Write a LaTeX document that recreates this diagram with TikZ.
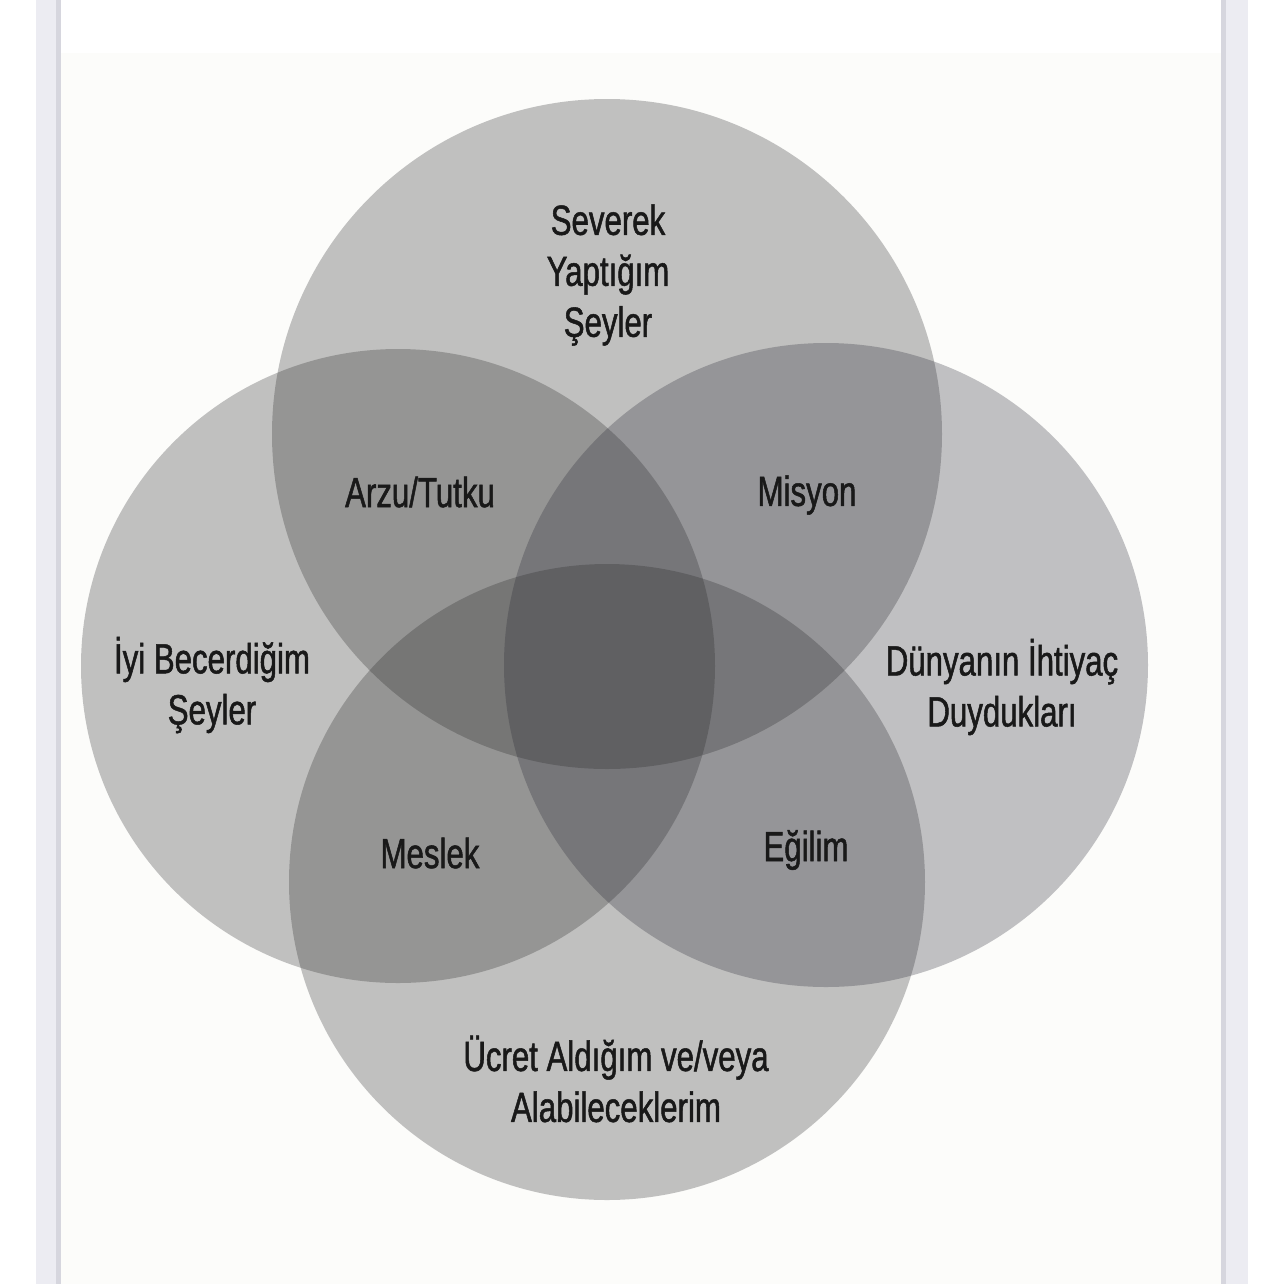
\documentclass[tikz,border=0pt]{standalone}
\usepackage{fontspec}
\setmainfont{Liberation Sans}[FakeStretch=0.74, FakeBold=1.2]
\usepackage{tikz}
\usetikzlibrary{positioning}
\definecolor{PageColor}{RGB}{252,252,250}
\definecolor{EdgeColor}{RGB}{236,236,242}
\definecolor{EdgeShade}{RGB}{214,214,222}
\definecolor{CircleColor}{RGB}{40,40,40}
\definecolor{CircleTint}{RGB}{40,40,52}
\tikzstyle{circ} = [fill=CircleColor, fill opacity=0.28]
\tikzstyle{settext} = [font=\fontsize{12}{14.5}\selectfont, align=center, text=black!90]

\begin{document}
\begin{tikzpicture}
    \useasboundingbox (0,0) rectangle (12.84,-12.84);

    % Page
    \fill[white] (0,0) rectangle (12.84,-12.84);
    \fill[PageColor] (0.60,-0.53) rectangle (12.22,-12.84);
    \fill[EdgeColor] (0.36,0) rectangle (0.60,-12.84);
    \fill[EdgeColor] (12.22,0) rectangle (12.48,-12.84);
    \draw[EdgeShade, line width=1.2pt] (0.585,0) -- (0.585,-12.84);
    \draw[EdgeShade, line width=1.2pt] (12.235,0) -- (12.235,-12.84);

    % Circles
    \fill[circ] (6.07,-4.34) circle (3.35);
    \fill[circ] (6.07,-8.82) circle (3.18);
    \fill[circ] (3.98,-6.66) circle (3.17);
    \fill[circ, fill=CircleTint] (8.26,-6.65) circle (3.22);

    % Sets
    \node[settext] (love) at (6.08,-2.75) {Severek\\Yaptığım\\Şeyler};
    \node[settext] (good) at (2.12,-6.85) {İyi Becerdiğim\\Şeyler};
    \node[settext] (need) at (10.02,-6.87) {Dünyanın İhtiyaç\\Duydukları};
    \node[settext] (paid) at (6.16,-10.79) {Ücret Aldığım ve/veya\\Alabileceklerim};

    % Overlaps
    \node[settext] (passion) at (4.20,-4.92) {Arzu/Tutku};
    \node[settext] (mission) at (8.07,-4.95) {Misyon};
    \node[settext] (profession) at (4.30,-8.53) {Meslek};
    \node[settext] (vocation) at (8.06,-8.50) {Eğilim};
\end{tikzpicture}
\end{document}
